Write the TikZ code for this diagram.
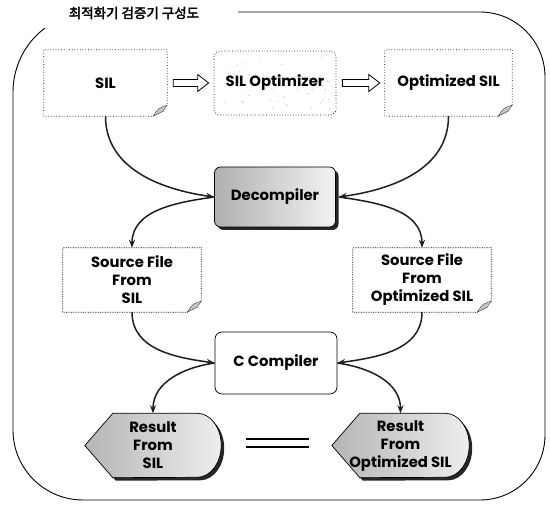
\documentclass[tikz,border=0pt]{standalone}
\usepackage{fontspec}
\setmainfont{Poppins}
\newfontfamily\krfont{Noto Sans CJK KR}[FakeBold=2.5]
\usetikzlibrary{arrows.meta,calc,shadows,backgrounds}

\definecolor{inkgray}{RGB}{30,30,30}

% hollow block arrow between two boxes
\newcommand\hollowarrow[2]{%
  \draw[fill=white, line width=.8pt] let \p1=($(#1.east)+(6pt,0)$), \p2=($(#2.west)-(5pt,0)$) in
    (\x1,\y1+3.5pt) -- (\x2-11pt,\y1+3.5pt) -- (\x2-11pt,\y1+8.5pt) -- (\x2,\y1)
    -- (\x2-11pt,\y1-8.5pt) -- (\x2-11pt,\y1-3.5pt) -- (\x1,\y1-3.5pt) -- cycle;}
% outline of a result box (pointed left, round right)
\newcommand\resultpath[2]{([shift={#2}]#1.west) -- ([shift={#2},xshift=28pt]#1.north west)
  -- ([shift={#2},xshift=-24pt]#1.north east) arc[start angle=90,end angle=-90,x radius=24pt,y radius=32pt]
  -- ([shift={#2},xshift=28pt]#1.south west) -- cycle}

\tikzset{
  txt/.style={font=\fontsize{14.8}{18}\selectfont\bfseries, align=center, inner sep=0pt},
  docnode/.style={txt, minimum width=#1, minimum height=66pt},
  docnode/.default=123pt,
  optbox/.style={txt, draw, dotted, line width=.7pt, rounded corners=6pt},
  decbox/.style={txt, draw, line width=.7pt, rounded corners=6pt, left color=gray!62, right color=gray!10,
    drop shadow={shadow xshift=3pt, shadow yshift=-3pt, fill=black!85, opacity=1}},
  ccbox/.style={txt, draw, line width=.7pt, rounded corners=7pt, fill=white},
  resnode/.style={txt, minimum width=#1, minimum height=64pt},
  resnode/.default=136pt,
  flow/.style={-{Stealth[length=8pt,width=6pt]}, line width=1.5pt, draw=inkgray},
  eqline/.style={line width=2.4pt}
}

\begin{document}
\begin{tikzpicture}[x=1pt,y=1pt]
\useasboundingbox (0,0) rectangle (550,506);

% title and frame
\node[font=\krfont\fontsize{13.5}{16}\selectfont] (title) at (134,493) {최적화기 검증기 구성도};
\draw[line width=.9pt] (238,494) -- (480,494) arc[start angle=90,end angle=0,radius=65]
  -- (545,71) arc[start angle=0,end angle=-90,radius=65] -- (83,6)
  arc[start angle=270,end angle=180,radius=70] -- (13,414) arc[start angle=180,end angle=127,radius=80];

% top row
\node[docnode] (sil) at (105.5,423) {SIL};
\node[optbox, minimum width=122pt, minimum height=64pt] (opt) at (275,423) {SIL Optimizer};
\node[docnode=127pt] (osil) at (448.5,423) {Optimized SIL};
\hollowarrow{sil}{opt}
\hollowarrow{opt}{osil}

% decompiler and sources
\node[decbox, minimum width=121pt, minimum height=60pt] (dec) at (275,309) {Decompiler};
\node[docnode=138pt, minimum height=64pt] (srcA) at (132,226) {Source File\\From\\SIL};
\node[docnode=138pt, minimum height=64pt] (srcB) at (422,226) {Source File\\From\\Optimized SIL};

% compiler and results
\node[ccbox, minimum width=122pt, minimum height=62pt] (cc) at (276,143) {C Compiler};
\node[resnode] (resA) at (153,60.5) {Result\\From\\SIL};
\node[resnode=137pt] (resB) at (400.5,60.5) {Result\\From\\Optimized SIL};

\draw[eqline] ($(resA.east)+(25,6.5)$) -- ($(resB.west)+(-23,6.5)$);
\draw[eqline] ($(resA.east)+(25,-1.5)$) -- ($(resB.west)+(-23,-1.5)$);

% connectors
\draw[flow] (sil.south) to[out=-90,in=172] (dec.west);
\draw[flow] (osil.south) to[out=-90,in=8] ([xshift=3pt]dec.east);
\draw[flow] (dec.west) to[out=188,in=90] (srcA.north);
\draw[flow] ([xshift=3pt]dec.east) to[out=-8,in=90] (srcB.north);
\draw[flow] (srcA.south) to[out=-90,in=172] (cc.west);
\draw[flow] (srcB.south) to[out=-90,in=8] (cc.east);
\draw[flow] (cc.west) to[out=188,in=90] (resA.north);
\draw[flow] (cc.east) to[out=-8,in=90] (resB.north);

\begin{scope}[on background layer]
  \fill[white] (0,0) rectangle (550,506);
  % document frames with folded corner
  \foreach \n/\s in {sil/dotted, osil/dotted, srcA/densely dotted, srcB/densely dotted} {
    \draw[\s, line width=.7pt] (\n.south west) -- (\n.north west) -- (\n.north east)
      -- ([yshift=11pt]\n.south east) -- ([xshift=-14pt]\n.south east) -- cycle;
    \filldraw[fill=gray!45, draw=black!75, line width=.4pt] ([xshift=-14pt]\n.south east)
      .. controls ([xshift=-9pt,yshift=8pt]\n.south east) .. ([yshift=11pt]\n.south east)
      -- ([xshift=-4pt,yshift=5pt]\n.south east) -- cycle;
  }
  % specks on the optimizer
  \pgfmathsetseed{12}
  \foreach \i in {1,...,45} {
    \pgfmathsetmacro\sx{rand*56}
    \pgfmathsetmacro\sy{rand*28}
    \pgfmathsetmacro\sa{rand*180}
    \draw[gray!55, line width=.4pt] ($(opt.center)+(\sx,\sy)$) -- ++(\sa:1.8pt);
  }
  % result boxes
  \foreach \n in {resA,resB} {
    \fill[black!85] \resultpath{\n}{(3pt,-3pt)};
    \draw[left color=gray!58, right color=gray!14, line width=.7pt] \resultpath{\n}{(0pt,0pt)};
  }
\end{scope}
\end{tikzpicture}
\end{document}
